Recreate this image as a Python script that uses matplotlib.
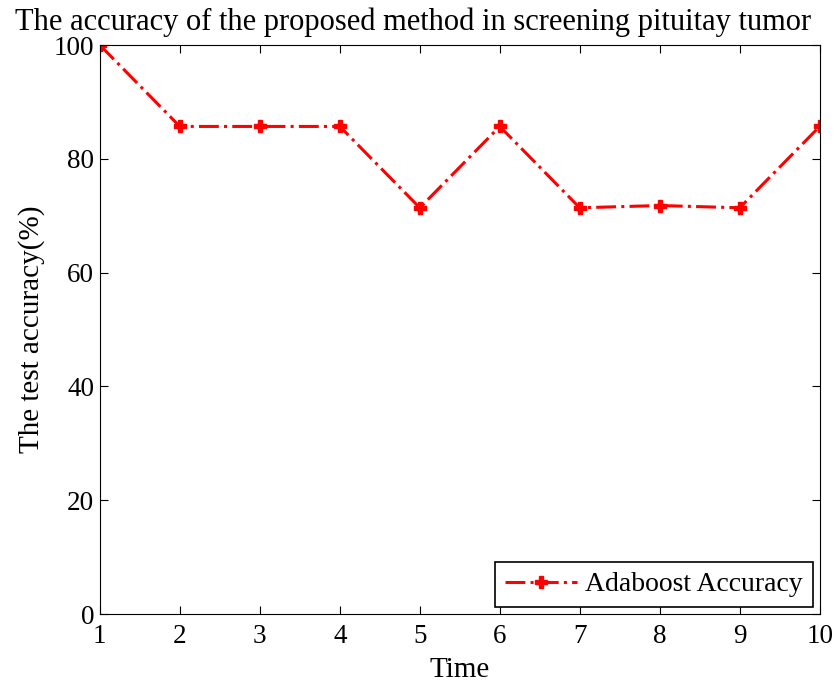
import matplotlib
matplotlib.use("Agg")
import matplotlib.pyplot as plt

plt.rcParams["font.family"] = ["Liberation Serif", "DejaVu Serif"]

time = [1, 2, 3, 4, 5, 6, 7, 8, 9, 10]
accuracy = [100, 85.7, 85.7, 85.7, 71.4, 85.7, 71.4, 71.8, 71.4, 85.7]

fig = plt.figure(figsize=(8.39, 6.83), dpi=100)
ax = fig.add_axes([0.119, 0.101, 0.858, 0.833])

ax.plot(time, accuracy, color="red", linestyle=(0, (6.5, 1.7, 1, 1.7)), linewidth=2.2,
        marker="P", markersize=8, label="Adaboost Accuracy")

ax.set_xlim(1, 10)
ax.set_ylim(0, 100)
ax.set_xticks(time)
ax.set_yticks([0, 20, 40, 60, 80, 100])
ax.tick_params(direction="in", top=True, right=True, labelsize=19.5, length=6)
ax.tick_params(axis="x", pad=7)
ax.tick_params(axis="y", pad=4)
ax.set_xlabel("Time", fontsize=21, labelpad=6)
ax.set_ylabel("The test accuracy(%)", fontsize=21, labelpad=6)
fig.text(413 / 839, 1 - 30 / 683,
         "The accuracy of the proposed method in screening pituitay tumor",
         fontsize=22, ha="center", va="baseline")

leg = ax.legend(loc="lower right", fontsize=20, fancybox=False, framealpha=1,
                edgecolor="black", borderaxespad=0.25, handlelength=2.6,
                borderpad=0.35, handletextpad=0.3)
leg.get_frame().set_linewidth(1.2)

fig.savefig("out.png", dpi=100)
